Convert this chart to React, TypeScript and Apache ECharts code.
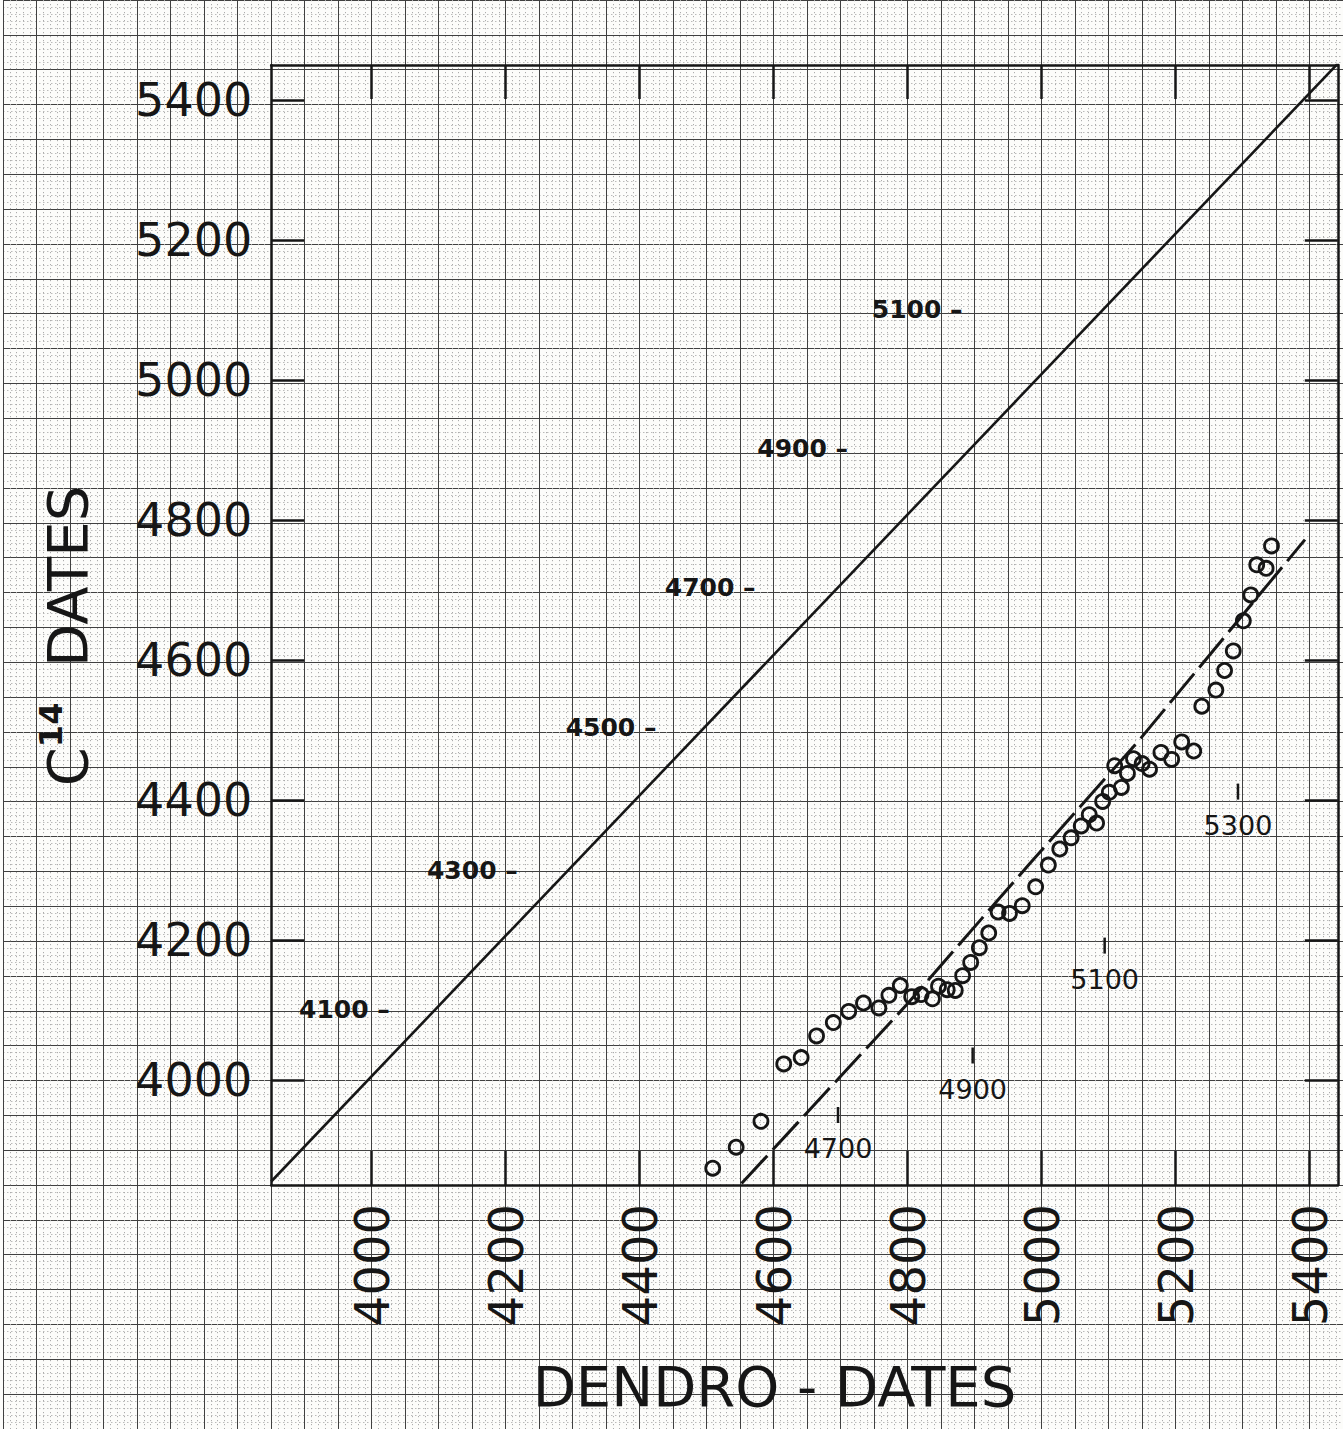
import React, { useEffect, useRef } from "react";
import * as echarts from "echarts";

// ---- axis ranges & ticks ----
const X_MIN = 3850;
const X_MAX = 5442;
const Y_MIN = 3850;
const Y_MAX = 5450;
const xTickValues = [4000, 4200, 4400, 4600, 4800, 5000, 5200, 5400];
const yTickValues = [4000, 4200, 4400, 4600, 4800, 5000, 5200, 5400];

// graph-paper ranges (whole sheet)
const PAPER_X = [3450, 5450];
const PAPER_Y = [3500, 5550];

// ---- measured samples ----
const dendroDates = [
  4509, 4544, 4581, 4615, 4641, 4664, 4689, 4712, 4734, 4757,
  4772, 4789, 4806, 4820, 4837, 4846, 4859, 4871, 4882, 4894,
  4907, 4921, 4935, 4952, 4971, 4991, 5010, 5027, 5044, 5059,
  5071, 5082, 5091, 5101, 5119, 5109, 5128, 5137, 5150, 5161,
  5178, 5194, 5209, 5227, 5239, 5260, 5273, 5286, 5301, 5312,
  5321, 5335, 5343,
];
const c14Dates = [
  3874, 3904, 3941, 4023, 4032, 4063, 4082, 4098, 4110, 4103,
  4121, 4135, 4119, 4122, 4116, 4134, 4129, 4128, 4149, 4168,
  4189, 4210, 4240, 4238, 4249, 4276, 4307, 4330, 4346, 4363,
  4379, 4367, 4398, 4411, 4418, 4449, 4438, 4459, 4452, 4444,
  4468, 4458, 4483, 4470, 4534, 4557, 4585, 4613, 4656, 4693,
  4736, 4731, 4763,
];

// equality line (C14 = dendro)
const identityX = [3850, 5442];
const identityY = [3855, 5452];

// dashed trend curve
const curveX = [4552, 4798, 4982, 5146, 5393];
const curveY = [3852, 4107, 4309, 4486, 4772];

// labels along the equality line
const idLabelText = ["4100", "4300", "4500", "4700", "4900", "5100"];
const idLabelX = [4027, 4218, 4425, 4573, 4711, 4882];
const idLabelY = [4101, 4300, 4504, 4703, 4902, 5101];

// labels along the dashed curve
const curveLabelText = ["4700", "4900", "5100", "5300"];
const curveLabelX = [4696, 4897, 5094, 5293];
const curveLabelY = [3950, 4035, 4192, 4412];

const FONT = "'DejaVu Sans', 'Liberation Sans', sans-serif";
const INK = "#161616";

export default function App() {
  const ref = useRef<HTMLDivElement>(null);

  useEffect(() => {
    if (!ref.current) return;
    const chart = echarts.init(ref.current, null, { renderer: "svg" });

    const paperAxisCommon = {
      type: "value" as const,
      interval: 50,
      axisLine: { show: false },
      axisTick: { show: false },
      axisLabel: { show: false },
      splitLine: { show: true, lineStyle: { color: "#404040", width: 1 } },
      minorTick: { show: false, splitNumber: 5 },
      minorSplitLine: {
        show: true,
        lineStyle: { color: "#acacac", width: 1, type: [1.2, 2.8] },
      },
    };

    const frameLine = { show: true, onZero: false, lineStyle: { color: INK, width: 2.5 } };
    const plain = (v: number) => String(v);

    const option: any = {
      animation: false,
      backgroundColor: "#fcfcfa",
      grid: [
        { left: 3.2, top: -5, width: 1340, height: 1435 },
        { left: 271.2, top: 65, width: 1066.6, height: 1120 },
      ],
      xAxis: [
        { ...paperAxisCommon, gridIndex: 0, min: PAPER_X[0], max: PAPER_X[1] },
        {
          gridIndex: 1,
          type: "value",
          position: "bottom",
          min: X_MIN,
          max: X_MAX,
          name: "DENDRO - DATES",
          nameLocation: "middle",
          nameGap: 173,
          nameTextStyle: {
            fontFamily: FONT,
            fontSize: 56,
            color: INK,
            padding: [0, 60, 0, 0],
          },
          axisLine: frameLine,
          axisTick: {
            show: true,
            inside: true,
            length: 34,
            customValues: xTickValues,
            lineStyle: { color: INK, width: 2.5 },
          },
          axisLabel: {
            show: true,
            rotate: 90,
            margin: 19,
            customValues: xTickValues,
            formatter: plain,
            fontFamily: FONT,
            fontSize: 48,
            color: INK,
          },
          splitLine: { show: false },
        },
        {
          gridIndex: 1,
          type: "value",
          position: "top",
          min: X_MIN,
          max: X_MAX,
          axisLine: frameLine,
          axisTick: {
            show: true,
            inside: true,
            length: 34,
            customValues: xTickValues,
            lineStyle: { color: INK, width: 2.5 },
          },
          axisLabel: { show: false },
          splitLine: { show: false },
        },
      ],
      yAxis: [
        { ...paperAxisCommon, gridIndex: 0, min: PAPER_Y[0], max: PAPER_Y[1] },
        {
          gridIndex: 1,
          type: "value",
          position: "left",
          min: Y_MIN,
          max: Y_MAX,
          name: "{c|C}{s|14}{c|  DATES}",
          nameLocation: "middle",
          nameGap: 172,
          nameTextStyle: {
            color: INK,
            padding: [0, 22, 0, 0],
            rich: {
              c: { fontFamily: FONT, fontSize: 56, lineHeight: 64, color: INK },
              s: {
                fontFamily: FONT,
                fontSize: 32,
                fontWeight: "bold",
                lineHeight: 30,
                verticalAlign: "top",
                color: INK,
              },
            },
          },
          axisLine: frameLine,
          axisTick: {
            show: true,
            inside: true,
            length: 33,
            customValues: yTickValues,
            lineStyle: { color: INK, width: 2.5 },
          },
          axisLabel: {
            show: true,
            margin: 19,
            customValues: yTickValues,
            formatter: plain,
            fontFamily: FONT,
            fontSize: 46,
            color: INK,
          },
          splitLine: { show: false },
        },
        {
          gridIndex: 1,
          type: "value",
          position: "right",
          min: Y_MIN,
          max: Y_MAX,
          axisLine: frameLine,
          axisTick: {
            show: true,
            inside: true,
            length: 33,
            customValues: yTickValues,
            lineStyle: { color: INK, width: 2.5 },
          },
          axisLabel: { show: false },
          splitLine: { show: false },
        },
      ],
      series: [
        {
          type: "line",
          xAxisIndex: 1,
          yAxisIndex: 1,
          silent: true,
          symbol: "none",
          lineStyle: { color: INK, width: 2.6 },
          data: identityX.map((x, i) => [x, identityY[i]]),
        },
        {
          type: "line",
          xAxisIndex: 1,
          yAxisIndex: 1,
          silent: true,
          symbol: "none",
          lineStyle: { color: INK, width: 3, type: [38, 8] },
          data: curveX.map((x, i) => [x, curveY[i]]),
        },
        {
          type: "scatter",
          xAxisIndex: 1,
          yAxisIndex: 1,
          silent: true,
          symbol: "circle",
          symbolSize: 14,
          itemStyle: { color: "rgba(0,0,0,0)", borderColor: INK, borderWidth: 2.8, opacity: 1 },
          data: dendroDates.map((x, i) => [x, c14Dates[i]]),
        },
        {
          type: "scatter",
          xAxisIndex: 1,
          yAxisIndex: 1,
          silent: true,
          symbolSize: 0,
          itemStyle: { color: "rgba(0,0,0,0)", opacity: 1 },
          label: {
            show: true,
            position: "left",
            distance: 0,
            formatter: "{b} –",
            fontFamily: FONT,
            fontWeight: "bold",
            fontSize: 25,
            color: INK,
            opacity: 1,
          },
          data: idLabelText.map((t, i) => ({ name: t, value: [idLabelX[i], idLabelY[i]] })),
        },
        {
          type: "scatter",
          xAxisIndex: 1,
          yAxisIndex: 1,
          silent: true,
          symbol: "rect",
          symbolSize: [2.5, 16],
          itemStyle: { color: INK, opacity: 1 },
          label: {
            show: true,
            position: "bottom",
            distance: 12,
            formatter: "{b}",
            fontFamily: FONT,
            fontSize: 27,
            color: INK,
            opacity: 1,
          },
          data: curveLabelText.map((t, i) => ({ name: t, value: [curveLabelX[i], curveLabelY[i]] })),
        },
      ],
    };

    chart.setOption(option);
    return () => chart.dispose();
  }, []);

  return (
    <div
      ref={ref}
      style={{ position: "absolute", left: 0, top: 0, width: 1343, height: 1429 }}
    />
  );
}
